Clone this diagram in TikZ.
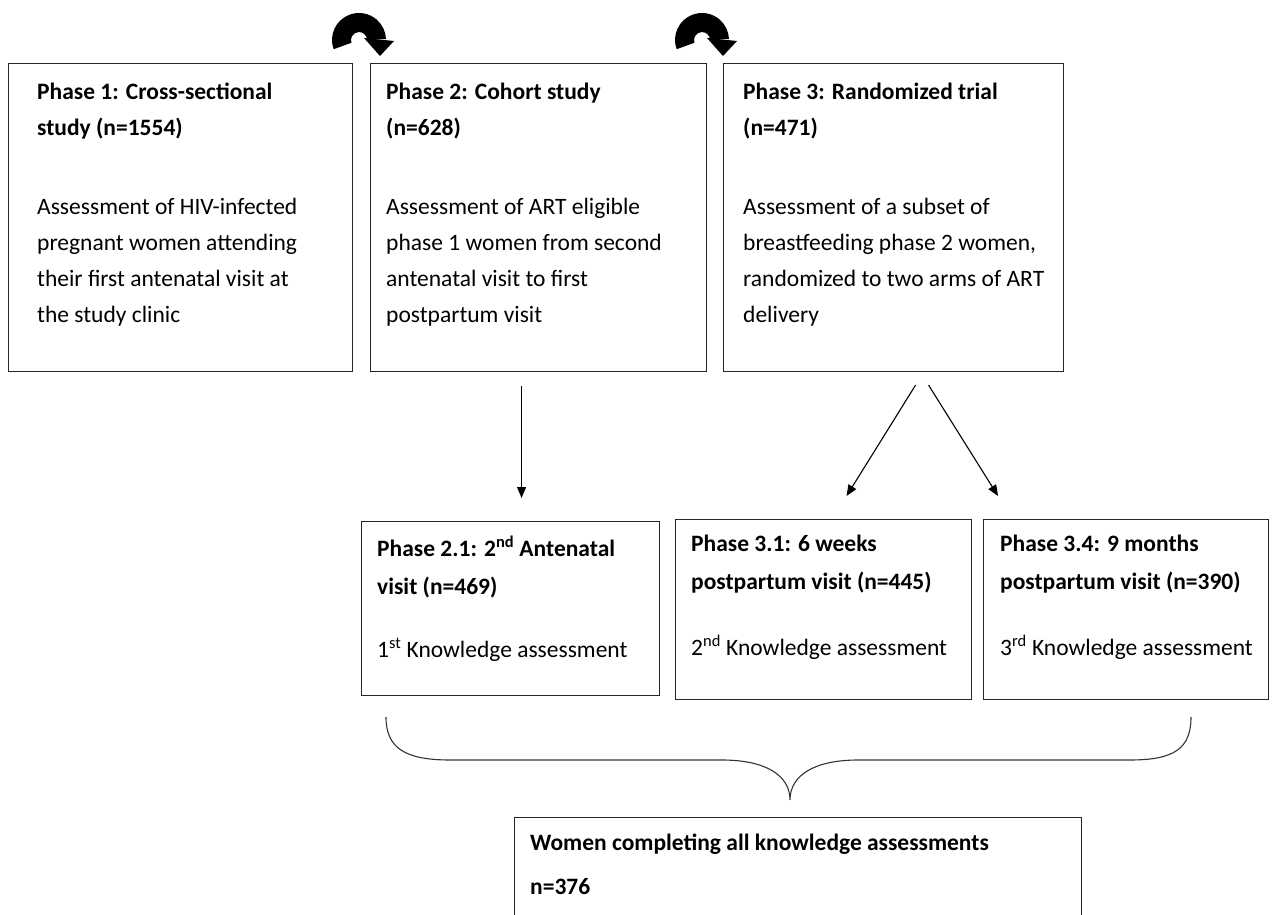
\documentclass[tikz,border=0pt]{standalone}
\usepackage{fontspec}
\setmainfont{Carlito}
\usetikzlibrary{arrows.meta,calc}
\tikzset{
  box/.style={draw=black!85, line width=1.1pt, inner sep=0pt, anchor=north west, rectangle},
  txt/.style={anchor=north west, inner sep=0pt, align=left, font=\fontsize{23.5}{36}\selectfont},
  txtlow/.style={anchor=north west, inner sep=0pt, align=left, font=\fontsize{23.5}{38}\selectfont},
  txtbot/.style={anchor=north west, inner sep=0pt, align=left, font=\fontsize{23.5}{44}\selectfont},
  arr/.style={line width=1.1pt, -{Triangle[length=11pt,width=9pt]}},
  curly/.style={fill=black},
  brace/.style={draw=black!80, line width=1.1pt}
}
\begin{document}
\begin{tikzpicture}[x=1pt,y=-1pt]
\useasboundingbox (0,0) rectangle (1272,915);
\clip (0,0) rectangle (1272,915);
% top boxes
\node[box, minimum width=344pt, minimum height=308pt] (b1) at (8,63) {};
\node[box, minimum width=336pt, minimum height=308pt] (b2) at (370,63) {};
\node[box, minimum width=340pt, minimum height=308pt] (b3) at (723,63) {};
\node[txt] (t1) at (37,83) {\textbf{Phase 1: Cross-sectional}\\\textbf{study (n=1554)}\\[43pt]Assessment of HIV-infected\\pregnant women attending\\their first antenatal visit at\\the study clinic};
\node[txt] (t2) at (386,83) {\textbf{Phase 2: Cohort study}\\\textbf{(n=628)}\\[43pt]Assessment of ART eligible\\phase 1 women  from second\\antenatal visit to first\\postpartum visit};
\node[txt] (t3) at (743,83) {\textbf{Phase 3: Randomized trial}\\\textbf{(n=471)}\\[43pt]Assessment of a subset of\\breastfeeding phase 2 women,\\randomized to two arms of ART\\delivery};
% lower boxes
\node[box, minimum width=298pt, minimum height=174pt] (b21) at (361,521) {};
\node[box, minimum width=296pt, minimum height=180pt] (b31) at (675,519) {};
\node[box, minimum width=285pt, minimum height=180pt] (b34) at (983,519) {};
\node[txtlow] (t21) at (377,536) {\textbf{Phase 2.1: 2\textsuperscript{nd} Antenatal}\\\textbf{visit (n=469)}\\[25pt]1\textsuperscript{st} Knowledge assessment};
\node[txtlow] (t31) at (691,535) {\textbf{Phase 3.1: 6 weeks}\\\textbf{postpartum visit (n=445)}\\[28pt]2\textsuperscript{nd} Knowledge assessment};
\node[txtlow] (t34) at (1000,535) {\textbf{Phase 3.4: 9 months}\\\textbf{postpartum visit (n=390)}\\[28pt]3\textsuperscript{rd} Knowledge assessment};
% bottom box
\node[box, minimum width=567pt, minimum height=140pt] (bb) at (514,817) {};
\node[txtbot] (tb) at (530,834) {\textbf{Women completing all knowledge assessments}\\\textbf{n=376}};
% arrows
\draw[arr] ([xshift=-17pt,yshift=-14pt]b2.south) -- ([xshift=11pt,yshift=23pt]b21.north);
\draw[arr] ([xshift=22pt,yshift=-13pt]b3.south) -- ([xshift=23pt,yshift=23pt]b31.north);
\draw[arr] ([xshift=35pt,yshift=-13pt]b3.south) -- ([xshift=-128pt,yshift=23pt]b34.north);
% curved arrows
\foreach \cx/\nm in {359/ca1, 702/ca2}{
  \coordinate (\nm) at (\cx,40);
  \fill[curly] (\nm) ++(160:27) arc[start angle=160, end angle=358, radius=27]
     -- ++(178:19) arc[start angle=358, end angle=160, radius=8] -- cycle;
  \fill[curly] ($(\nm)+(5,-2)$) -- ($(\nm)+(35,1)$) -- ($(\nm)+(21,16)$) -- cycle;
}
% brace
\coordinate (brL) at (386,717);
\coordinate (brR) at (1191,717);
\coordinate (brT) at (790,800);
\draw[brace] (brL) .. controls (386,748) and (405,760) .. (450,760) -- (722,760)
   .. controls (765,760) and (790,775) .. (brT)
   .. controls (790,775) and (815,760) .. (858,760) -- (1130,760)
   .. controls (1175,760) and (1191,748) .. (brR);
\end{tikzpicture}
\end{document}
